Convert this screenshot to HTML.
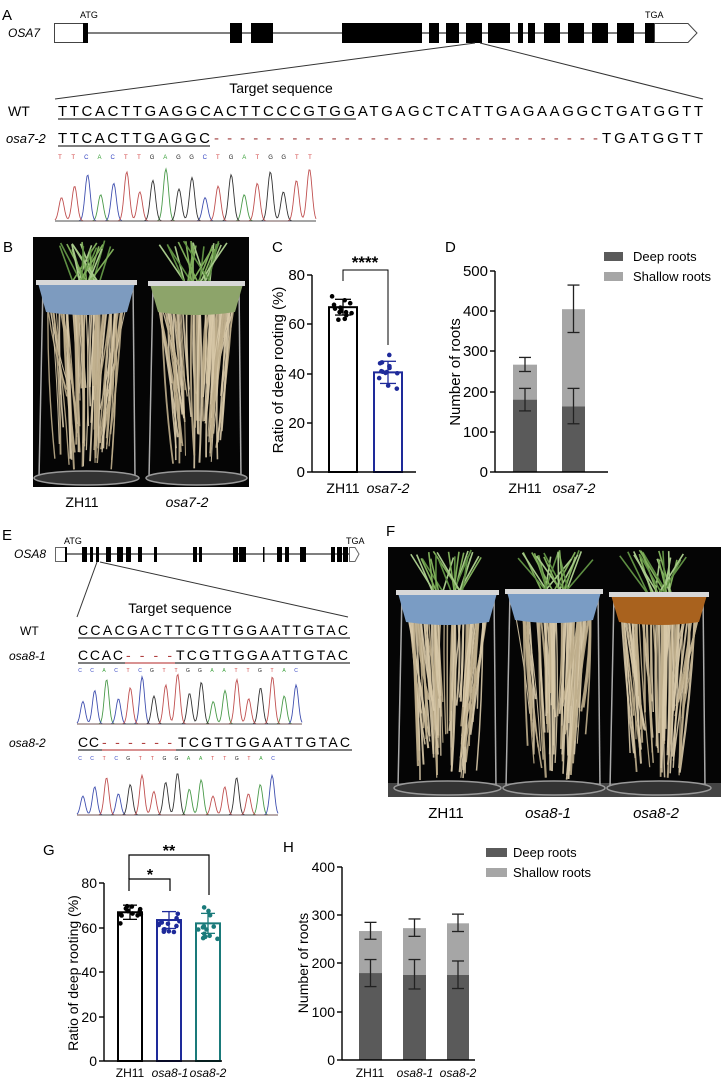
<!DOCTYPE html>
<html><head><meta charset="utf-8"><style>
html,body{margin:0;padding:0;background:#fff;}
svg{display:block;font-family:"Liberation Sans",Arial,sans-serif;}
</style></head><body>
<svg id="s" width="721" height="1080" viewBox="0 0 721 1080" xmlns="http://www.w3.org/2000/svg">
<!-- Panel A -->
<text x="2" y="20" font-size="15">A</text>
<text x="8" y="37" font-size="12" font-style="italic">OSA7</text>
<text x="80" y="18" font-size="9">ATG</text>
<text x="645" y="18" font-size="9">TGA</text>
<line x1="83" y1="33" x2="654" y2="33" stroke="#333" stroke-width="1.2"/>
<rect x="54.5" y="23.5" width="29" height="19" fill="#fff" stroke="#444"/>
<path d="M654.5 23.5 H688 L697 33 L688 42.5 H654.5 Z" fill="#fff" stroke="#444"/>
<g fill="#000">
<rect x="83" y="23" width="5" height="20"/><rect x="230" y="23" width="12" height="20"/><rect x="251" y="23" width="22" height="20"/>
<rect x="342" y="23" width="80" height="20"/><rect x="429" y="23" width="10" height="20"/><rect x="446" y="23" width="13" height="20"/>
<rect x="466" y="23" width="16" height="20"/><rect x="488" y="23" width="22" height="20"/><rect x="518" y="23" width="5" height="20"/>
<rect x="528" y="23" width="7" height="20"/><rect x="544" y="23" width="16" height="20"/><rect x="568" y="23" width="16" height="20"/>
<rect x="592" y="23" width="16" height="20"/><rect x="617" y="23" width="17" height="20"/><rect x="645" y="23" width="9" height="20"/>
</g>
<line x1="475" y1="43" x2="55" y2="99" stroke="#333" stroke-width="1"/>
<line x1="480" y1="43" x2="703" y2="99" stroke="#333" stroke-width="1"/>
<text x="281" y="93" font-size="14" text-anchor="middle">Target sequence</text>
<text x="8" y="116" font-size="14">WT</text>
<text x="58" y="116" font-size="15" textLength="645" lengthAdjust="spacing">TTCACTTGAGGCACTTCCCGTGGATGAGCTCATTGAGAAGGCTGATGGTT</text>
<line x1="58" y1="119" x2="356" y2="119" stroke="#333" stroke-width="1.3"/>
<text x="6" y="143" font-size="13" font-style="italic">osa7-2</text>
<text x="58" y="143" font-size="15" textLength="152" lengthAdjust="spacing">TTCACTTGAGGC</text>
<line x1="58" y1="146" x2="210" y2="146" stroke="#333" stroke-width="1.3"/>
<text x="214" y="143" font-size="15" fill="#a04040" textLength="384" lengthAdjust="spacing">------------------------------</text>
<text x="602" y="143" font-size="15" textLength="101" lengthAdjust="spacing">TGATGGTT</text>
<g id="smallA" font-size="6"></g>
<g id="chromA"></g>

<!-- Panel B -->
<text x="3" y="252" font-size="15">B</text>
<rect x="33" y="237" width="216" height="250" fill="#050505"/>
<g id="photoB"></g>
<text x="82" y="507" font-size="14" text-anchor="middle">ZH11</text>
<text x="187" y="507" font-size="14" text-anchor="middle" font-style="italic">osa7-2</text>

<!-- Panel C -->
<text x="272" y="252" font-size="15">C</text>
<g id="chartC"></g>
<!-- Panel D -->
<text x="445" y="252" font-size="15">D</text>
<g id="chartD"></g>

<!-- Panel E -->
<text x="2" y="540" font-size="15">E</text>
<text x="14" y="558" font-size="12" font-style="italic">OSA8</text>
<text x="64" y="544" font-size="9">ATG</text>
<text x="346" y="544" font-size="9">TGA</text>
<line x1="55" y1="554" x2="350" y2="554" stroke="#333" stroke-width="1.2"/>
<rect x="55.5" y="547.5" width="10" height="14" fill="#fff" stroke="#666"/>
<path d="M349.5 547.5 H355 L359 554 L355 561.5 H349.5 Z" fill="#fff" stroke="#666"/>
<g fill="#000">
<rect x="65" y="547" width="2" height="15"/><rect x="82" y="547" width="5" height="15"/><rect x="90" y="547" width="3" height="15"/>
<rect x="96" y="547" width="3" height="15"/><rect x="106" y="547" width="5" height="15"/><rect x="117" y="547" width="6" height="15"/>
<rect x="126" y="547" width="5" height="15"/><rect x="138" y="547" width="4" height="15"/><rect x="154" y="547" width="3" height="15"/>
<rect x="193" y="547" width="4" height="15"/><rect x="199" y="547" width="3" height="15"/><rect x="233" y="547" width="5" height="15"/>
<rect x="239" y="547" width="7" height="15"/><rect x="263" y="547" width="1.5" height="15"/><rect x="277" y="547" width="5" height="15"/>
<rect x="285" y="547" width="4" height="15"/><rect x="300" y="547" width="6" height="15"/><rect x="331" y="547" width="4" height="15"/>
<rect x="337" y="547" width="5" height="15"/><rect x="343" y="547" width="5" height="15"/>
</g>
<line x1="97" y1="562" x2="77" y2="617" stroke="#333"/>
<line x1="100" y1="562" x2="348" y2="617" stroke="#333"/>
<text x="180" y="613" font-size="14" text-anchor="middle">Target sequence</text>
<text x="20" y="635" font-size="12">WT</text>
<text x="78" y="635" font-size="14" textLength="270" lengthAdjust="spacing">CCACGACTTCGTTGGAATTGTAC</text>
<line x1="78" y1="638" x2="350" y2="638" stroke="#333" stroke-width="1.2"/>
<text x="9" y="660" font-size="12" font-style="italic">osa8-1</text>
<text x="78" y="660" font-size="14" textLength="45" lengthAdjust="spacing">CCAC</text>
<text x="126" y="660" font-size="14" fill="#b04040" textLength="46" lengthAdjust="spacing">----</text>
<text x="176" y="660" font-size="14" textLength="172" lengthAdjust="spacing">TCGTTGGAATTGTAC</text>
<line x1="78" y1="663" x2="125" y2="663" stroke="#333" stroke-width="1.2"/>
<line x1="125" y1="663" x2="175" y2="663" stroke="#c05050" stroke-width="1.2"/>
<line x1="175" y1="663" x2="350" y2="663" stroke="#333" stroke-width="1.2"/>
<text x="9" y="747" font-size="12" font-style="italic">osa8-2</text>
<text x="78" y="747" font-size="14" textLength="21" lengthAdjust="spacing">CC</text>
<text x="102" y="747" font-size="14" fill="#b04040" textLength="70" lengthAdjust="spacing">------</text>
<text x="178" y="747" font-size="14" textLength="172" lengthAdjust="spacing">TCGTTGGAATTGTAC</text>
<line x1="78" y1="750" x2="102" y2="750" stroke="#333" stroke-width="1.2"/>
<line x1="102" y1="750" x2="176" y2="750" stroke="#c05050" stroke-width="1.2"/>
<line x1="176" y1="750" x2="352" y2="750" stroke="#333" stroke-width="1.2"/>
<g id="smallE" font-size="5"></g>
<g id="chromE"></g>

<!-- Panel F -->
<text x="386" y="536" font-size="15">F</text>
<rect x="388" y="547" width="333" height="250" fill="#050505"/>
<g id="photoF"></g>
<text x="446" y="818" font-size="15" text-anchor="middle">ZH11</text>
<text x="548" y="818" font-size="15" text-anchor="middle" font-style="italic">osa8-1</text>
<text x="656" y="818" font-size="15" text-anchor="middle" font-style="italic">osa8-2</text>

<!-- Panel G -->
<text x="43" y="855" font-size="15">G</text>
<g id="chartG"></g>
<!-- Panel H -->
<text x="283" y="852" font-size="15">H</text>
<g id="chartH"></g>
</svg>
<script>
const NS="http://www.w3.org/2000/svg";
function el(p,t,a,txt){const e=document.createElementNS(NS,t);for(const k in a)e.setAttribute(k,a[k]);if(txt!==undefined)e.textContent=txt;p.appendChild(e);return e;}
let seed=7;function rnd(){seed=(seed*16807)%2147483647;return (seed-1)/2147483646;}
const cols={A:"#3aa03a",C:"#3040c0",G:"#222",T:"#d04040"};
function smallSeq(g,s,x0,x1,y){const d=(x1-x0)/(s.length-1);for(let i=0;i<s.length;i++)el(g,"text",{x:x0+i*d,y:y,fill:cols[s[i]],"text-anchor":"middle"},s[i]);}
function chrom(g,s,x0,x1,yb,h){const d=(x1-x0)/s.length;const colsP={A:"#4a9a4a",C:"#4050b0",G:"#333",T:"#c05050"};
 for(const b of "ACGT"){let p="";for(let x=x0;x<=x1;x+=1){let v=0;for(let i=0;i<s.length;i++){if(s[i]!==b)continue;const c=x0+d*(i+0.5);const hh=h*(0.45+0.55*((i*37%11)/10));v+=hh*Math.exp(-Math.pow((x-c)/(d*0.28),2));}p+=(p?"L":"M")+x+" "+(yb-v).toFixed(1);}
 el(g,"path",{d:p,fill:"none",stroke:colsP[b],"stroke-width":0.9});}
 el(g,"line",{x1:x0,y1:yb,x2:x1,y2:yb,stroke:"#555","stroke-width":0.8});}
smallSeq(document.getElementById("smallA"),"TTCACTTGAGGCTGATGGTT",60,310,159);
chrom(document.getElementById("chromA"),"TTCACTTGAGGCTGATGGTT",55,316,221,52);
const sE=document.getElementById("smallE");
smallSeq(sE,"CCACTCGTTGGAATTGTAC",80,296,672);
smallSeq(sE,"CCTCGTTGGAATTGTAC",80,273,760);
chrom(document.getElementById("chromE"),"CCACTCGTTGGAATTGTAC",77,302,724,50);
chrom(document.getElementById("chromE"),"CCTCGTTGGAATTGTAC",77,278,815,42);

function plant(g,x0,x1,rimY,botY,rootEnd,leafTop,basketCol,standL,standR,baseY){
 const cx=(x0+x1)/2;
 for(let i=0;i<22;i++){const bx=cx+(rnd()-0.5)*30;el(g,"line",{x1:bx,y1:rimY,x2:bx+(rnd()-0.5)*60,y2:leafTop+rnd()*10,stroke:["#7fae5a","#a7c98a","#5e8f42"][i%3],"stroke-width":1.6});}
 el(g,"line",{x1:standL,y1:rimY,x2:standL-4,y2:baseY,stroke:"#aaa","stroke-width":1.5});
 el(g,"line",{x1:standR,y1:rimY,x2:standR+2,y2:baseY,stroke:"#aaa","stroke-width":1.5});
 const w=x1-x0;
 for(let i=0;i<70;i++){const sx=x0+w*0.1+rnd()*w*0.8;const ex=cx+(sx-cx)*(0.4+rnd()*0.5);const ey=botY+(rootEnd-botY)*(0.45+rnd()*0.55);
  el(g,"path",{d:`M${sx} ${botY} Q${(sx+ex)/2+(rnd()-0.5)*8} ${(botY+ey)/2} ${ex} ${ey}`,fill:"none",stroke:rnd()<0.5?"#d8c9a8":"#bfae8c","stroke-width":1+rnd()*1.2,opacity:0.9});}
 el(g,"path",{d:`M${x0} ${rimY} L${x1} ${rimY} L${x1-8} ${botY} Q${cx} ${botY+6} ${x0+8} ${botY} Z`,fill:basketCol});
 el(g,"rect",{x:x0-2,y:rimY-3,width:w+4,height:5,fill:"#d8d8d8"});
 el(g,"ellipse",{cx:cx,cy:baseY,rx:w/2+4,ry:7,fill:"#333",stroke:"#999","stroke-width":1.5});
}
const pB=document.getElementById("photoB");
plant(pB,38,135,283,312,470,240,"#7d9bbf",43,133,478);
plant(pB,150,243,284,312,470,240,"#8da46a",153,239,478);
const pF=document.getElementById("photoF");
el(pF,"rect",{x:388,y:783,width:333,height:14,fill:"#444"});
plant(pF,398,497,593,622,780,550,"#7a9cc4",402,494,788);
plant(pF,507,601,592,620,780,550,"#7a9cc4",510,598,788);
plant(pF,611,707,595,622,780,550,"#a9621e",614,703,788);

function axis(g,x,y0,y1,xend,ticks,fmtY,fs){
 el(g,"line",{x1:x,y1:y0,x2:x,y2:y1,stroke:"#000","stroke-width":1.4});
 el(g,"line",{x1:x,y1:y0,x2:xend,y2:y0,stroke:"#000","stroke-width":1.4});
 for(const [v,yy] of ticks){el(g,"line",{x1:x-5,y1:yy,x2:x,y2:yy,stroke:"#000","stroke-width":1.4});el(g,"text",{x:x-7,y:yy+5,"font-size":fs,"text-anchor":"end"},v);}
}
function dots(g,cx,mean,sd,scale,y0,col,n){for(let i=0;i<n;i++){const v=mean+(rnd()-0.5)*2*sd*1.6;el(g,"circle",{cx:cx+(rnd()-0.5)*22,cy:y0-v*scale,r:2.3,fill:col});}}
function errbar(g,cx,lo,hi,col,w){el(g,"line",{x1:cx,y1:lo,x2:cx,y2:hi,stroke:col,"stroke-width":1.3});el(g,"line",{x1:cx-w,y1:lo,x2:cx+w,y2:lo,stroke:col,"stroke-width":1.3});el(g,"line",{x1:cx-w,y1:hi,x2:cx+w,y2:hi,stroke:col,"stroke-width":1.3});}

// C
(function(){const g=document.getElementById("chartC");const y0=472,sc=2.46,ax=312;
 const bars=[[329,357,67,"#000",3.2],[374,402,40.5,"#1e2a9a",4.5]];
 for(const [a,b,v,c,sd] of bars){el(g,"rect",{x:a,y:y0-v*sc,width:b-a,height:v*sc,fill:"#fff",stroke:c,"stroke-width":2});dots(g,(a+b)/2,v,sd,sc,y0,c,13);errbar(g,(a+b)/2,y0-(v-sd)*sc,y0-(v+sd)*sc,c,8);}
 axis(g,ax,y0,275,416,[[0,472],[20,423],[40,374],[60,324],[80,275]],"",15);
 el(g,"path",{d:"M343 281 V270 H388 V345",fill:"none",stroke:"#000","stroke-width":1});
 el(g,"text",{x:365,y:268,"font-size":17,"text-anchor":"middle","font-weight":"bold"},"****");
 el(g,"text",{x:343,y:493,"font-size":14,"text-anchor":"middle"},"ZH11");
 el(g,"text",{x:388,y:493,"font-size":14,"text-anchor":"middle","font-style":"italic"},"osa7-2");
 el(g,"text",{x:283,y:370,"font-size":15,"text-anchor":"middle",transform:"rotate(-90 283 370)"},"Ratio of deep rooting (%)");
})();
// D
(function(){const g=document.getElementById("chartD");const y0=472,sc=0.402;
 const bars=[[513,537,180,267,152,208,250,285],[562,585,163,405,120,208,347,465]];
 for(const [a,b,d,t,l1,h1,l2,h2] of bars){el(g,"rect",{x:a,y:y0-t*sc,width:b-a,height:(t-d)*sc,fill:"#a6a6a6"});el(g,"rect",{x:a,y:y0-d*sc,width:b-a,height:d*sc,fill:"#5a5a5a"});
  errbar(g,(a+b)/2,y0-l1*sc,y0-h1*sc,"#222",6);errbar(g,(a+b)/2,y0-l2*sc,y0-h2*sc,"#222",6);}
 axis(g,495,y0,271,608,[[0,472],[100,432],[200,392],[300,351],[400,311],[500,271]],"",15);
 el(g,"text",{x:525,y:493,"font-size":14,"text-anchor":"middle"},"ZH11");
 el(g,"text",{x:574,y:493,"font-size":14,"text-anchor":"middle","font-style":"italic"},"osa7-2");
 el(g,"text",{x:460,y:372,"font-size":15,"text-anchor":"middle",transform:"rotate(-90 460 372)"},"Number of roots");
 el(g,"rect",{x:604,y:252,width:19,height:9,fill:"#5a5a5a"});el(g,"text",{x:633,y:261,"font-size":13},"Deep roots");
 el(g,"rect",{x:604,y:272,width:19,height:9,fill:"#a6a6a6"});el(g,"text",{x:633,y:281,"font-size":13},"Shallow roots");
})();
// G
(function(){const g=document.getElementById("chartG");const y0=1061,sc=2.22;
 const bars=[[118,142,67,"#000",3.2],[157,181,63.5,"#1e2a9a",3.8],[196,220,62,"#1a7a7a",4.5]];
 for(const [a,b,v,c,sd] of bars){el(g,"rect",{x:a,y:y0-v*sc,width:b-a,height:v*sc,fill:"#fff",stroke:c,"stroke-width":2});dots(g,(a+b)/2,v,sd,sc,y0,c,13);errbar(g,(a+b)/2,y0-(v-sd)*sc,y0-(v+sd)*sc,c,7);}
 axis(g,104,y0,883,222,[[0,1061],[20,1017],[40,972],[60,928],[80,883]],"",14);
 el(g,"path",{d:"M129 891 V879 H170 V891",fill:"none",stroke:"#000","stroke-width":1.2});
 el(g,"path",{d:"M129 879 V855 H209 V895",fill:"none",stroke:"#000","stroke-width":1.2});
 el(g,"text",{x:150,y:880,"font-size":16,"text-anchor":"middle","font-weight":"bold"},"*");
 el(g,"text",{x:169,y:856,"font-size":16,"text-anchor":"middle","font-weight":"bold"},"**");
 el(g,"text",{x:130,y:1077,"font-size":12,"text-anchor":"middle"},"ZH11");
 el(g,"text",{x:170,y:1077,"font-size":12,"text-anchor":"middle","font-style":"italic"},"osa8-1");
 el(g,"text",{x:208,y:1077,"font-size":12,"text-anchor":"middle","font-style":"italic"},"osa8-2");
 el(g,"text",{x:78,y:973,"font-size":14,"text-anchor":"middle",transform:"rotate(-90 78 973)"},"Ratio of deep rooting (%)");
})();
// H
(function(){const g=document.getElementById("chartH");const y0=1060,sc=0.483;
 const bars=[[359,382,180,267,152,208,250,285],[403,426,176,273,147,208,256,292],[447,469,176,283,148,205,266,302]];
 for(const [a,b,d,t,l1,h1,l2,h2] of bars){el(g,"rect",{x:a,y:y0-t*sc,width:b-a,height:(t-d)*sc,fill:"#a6a6a6"});el(g,"rect",{x:a,y:y0-d*sc,width:b-a,height:d*sc,fill:"#5a5a5a"});
  errbar(g,(a+b)/2,y0-l1*sc,y0-h1*sc,"#222",6);errbar(g,(a+b)/2,y0-l2*sc,y0-h2*sc,"#222",6);}
 axis(g,342,y0,867,475,[[0,1060],[100,1012],[200,963],[300,915],[400,867]],"",14);
 el(g,"text",{x:370,y:1077,"font-size":12,"text-anchor":"middle"},"ZH11");
 el(g,"text",{x:415,y:1077,"font-size":12,"text-anchor":"middle","font-style":"italic"},"osa8-1");
 el(g,"text",{x:458,y:1077,"font-size":12,"text-anchor":"middle","font-style":"italic"},"osa8-2");
 el(g,"text",{x:308,y:963,"font-size":14,"text-anchor":"middle",transform:"rotate(-90 308 963)"},"Number of roots");
 el(g,"rect",{x:486,y:848,width:21,height:9,fill:"#5a5a5a"});el(g,"text",{x:513,y:857,"font-size":13},"Deep roots");
 el(g,"rect",{x:486,y:868,width:21,height:9,fill:"#a6a6a6"});el(g,"text",{x:513,y:877,"font-size":13},"Shallow roots");
})();
</script>
</body></html>
